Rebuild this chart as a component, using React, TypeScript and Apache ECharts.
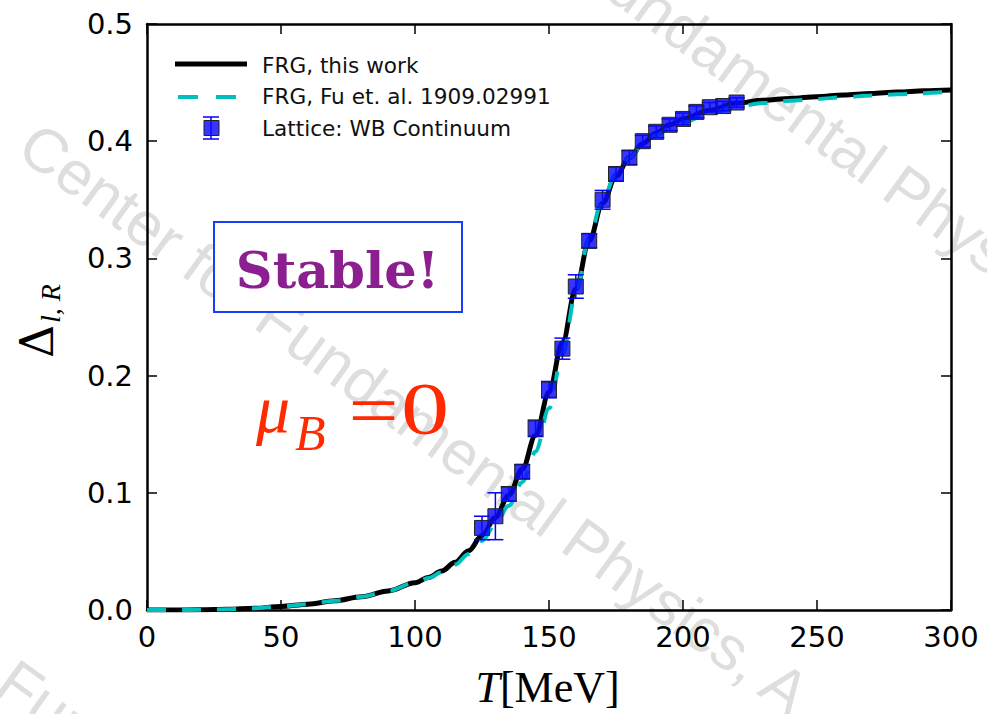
import React, { useEffect, useRef } from "react";
import * as echarts from "echarts";

// ---- data ----
const frgT = [0, 10, 20, 30, 40, 50, 60, 70, 80, 90, 100, 105, 110, 115, 120, 125, 130, 135, 140, 145, 150, 155, 160, 165, 170, 175, 180, 185, 190, 195, 200, 210, 220, 230, 240, 250, 260, 270, 280, 290, 300];
const frgThisWork = [0, 0.0, 0.0002, 0.0006, 0.0015, 0.003, 0.005, 0.0078, 0.0113, 0.0163, 0.0233, 0.0278, 0.0333, 0.0407, 0.0505, 0.0635, 0.079, 0.098, 0.12, 0.149, 0.186, 0.228, 0.274, 0.315, 0.347, 0.37, 0.386, 0.398, 0.407, 0.414, 0.419, 0.4265, 0.4325, 0.435, 0.4365, 0.438, 0.4395, 0.4408, 0.442, 0.443, 0.4437];
const frgFu = [0, 0.0, 0.0002, 0.0006, 0.0015, 0.003, 0.005, 0.0078, 0.0113, 0.0163, 0.0233, 0.0273, 0.0323, 0.0388, 0.0478, 0.059, 0.073, 0.089, 0.109, 0.135, 0.172, 0.218, 0.27, 0.318, 0.35, 0.372, 0.386, 0.397, 0.405, 0.411, 0.416, 0.4235, 0.4295, 0.4325, 0.4345, 0.436, 0.4375, 0.439, 0.44, 0.441, 0.4423];
const latticeT = [125, 130, 135, 140, 145, 150, 155, 160, 165, 170, 175, 180, 185, 190, 195, 200, 205, 210, 215, 220];
const latticeDelta = [0.07, 0.08, 0.099, 0.118, 0.155, 0.188, 0.223, 0.276, 0.315, 0.35, 0.372, 0.386, 0.4, 0.408, 0.414, 0.419, 0.425, 0.429, 0.43, 0.433];
const latticeErr = [0.01, 0.02, 0.006, 0.006, 0.007, 0.007, 0.009, 0.01, 0.006, 0.008, 0.006, 0.006, 0.005, 0.005, 0.005, 0.005, 0.005, 0.004, 0.004, 0.004];
const xTicks = { min: 0, max: 300, interval: 50 };
const yTicks = { min: 0, max: 0.5, interval: 0.1 };
const legendLabels = ["FRG, this work", "FRG, Fu et. al. 1909.02991", "Lattice: WB Continuum"];
const watermarkText = "Center for Fundamental Physics, A";

const BLUE = "#0000ff";
const CYAN = "#00bfbf";

export default function App() {
  const ref = useRef<HTMLDivElement>(null);
  useEffect(() => {
    if (!ref.current) return;
    const chart = echarts.init(ref.current, undefined, { renderer: "svg" });

    const axisCommon = {
      type: "value" as const,
      splitLine: { show: false },
      axisLine: { show: true, onZero: false, lineStyle: { color: "#000", width: 2.5 } },
      axisTick: { show: true, inside: true, length: 10, lineStyle: { color: "#000", width: 1.5 } },
    };
    const labelStyle = { color: "#000", fontSize: 29, fontFamily: "DejaVu Sans" };

    const wmAngle = (-36 * Math.PI) / 180;
    const wmStarts = [
      [27, 137],
      [348, -216],
      [-232, 502],
    ];
    const watermark = wmStarts.map(([x, y]) => ({
      type: "text",
      x,
      y,
      rotation: wmAngle,
      z: -10,
      silent: true,
      style: {
        text: watermarkText,
        fill: "#dedede",
        font: "62px 'Liberation Sans'",
        textAlign: "left",
        textVerticalAlign: "middle",
      },
    }));

    const serif = "'Liberation Serif'";
    const red = "#ff2a00";

    const option = {
      animation: false,
      backgroundColor: "#fff",
      grid: { left: 147, top: 24, width: 804, height: 586, containLabel: false },
      xAxis: [
        { ...axisCommon, ...xTicks, position: "bottom", axisLabel: { ...labelStyle, margin: 12 } },
        { ...axisCommon, ...xTicks, position: "top", axisLabel: { show: false } },
      ],
      yAxis: [
        {
          ...axisCommon,
          ...yTicks,
          position: "left",
          axisLabel: { ...labelStyle, margin: 14, formatter: (v: number) => v.toFixed(1) },
        },
        { ...axisCommon, ...yTicks, position: "right", axisLabel: { show: false } },
      ],
      series: [
        {
          name: legendLabels[0],
          type: "line",
          xAxisIndex: 0,
          yAxisIndex: 0,
          data: frgT.map((t, i) => [t, frgThisWork[i]]),
          showSymbol: false,
          smooth: 0.35,
          smoothMonotone: "x",
          lineStyle: { color: "#000", width: 5 },
          z: 2,
        },
        {
          name: legendLabels[1],
          type: "line",
          xAxisIndex: 0,
          yAxisIndex: 0,
          data: frgT.map((t, i) => [t, frgFu[i]]),
          showSymbol: false,
          smooth: 0.35,
          smoothMonotone: "x",
          lineStyle: { color: CYAN, width: 4, type: [19, 16] },
          z: 3,
        },
        {
          name: "errors",
          type: "custom",
          xAxisIndex: 0,
          yAxisIndex: 0,
          data: latticeT.map((t, i) => [t, latticeDelta[i], latticeErr[i]]),
          renderItem: (params: any, api: any) => {
            const x = api.value(0);
            const y = api.value(1);
            const e = api.value(2);
            const top = api.coord([x, y + e]);
            const bot = api.coord([x, y - e]);
            const hw = 8;
            const st = { stroke: BLUE, lineWidth: 1.5 };
            return {
              type: "group",
              children: [
                { type: "line", shape: { x1: top[0], y1: top[1], x2: bot[0], y2: bot[1] }, style: st },
                { type: "line", shape: { x1: top[0] - hw, y1: top[1], x2: top[0] + hw, y2: top[1] }, style: st },
                { type: "line", shape: { x1: bot[0] - hw, y1: bot[1], x2: bot[0] + hw, y2: bot[1] }, style: st },
              ],
            };
          },
          z: 4,
        },
        {
          name: legendLabels[2],
          type: "scatter",
          xAxisIndex: 0,
          yAxisIndex: 0,
          data: latticeT.map((t, i) => [t, latticeDelta[i]]),
          symbol: "rect",
          symbolSize: 15,
          itemStyle: { color: "rgba(10,10,255,0.82)", borderColor: "#222", borderWidth: 1, opacity: 1 },
          z: 5,
        },
      ],
      graphic: [
        ...watermark,
        // legend
        { type: "line", shape: { x1: 175, y1: 64, x2: 247, y2: 64 }, style: { stroke: "#000", lineWidth: 5 }, z: 20 },
        { type: "line", shape: { x1: 178, y1: 97, x2: 247, y2: 97 }, style: { stroke: CYAN, lineWidth: 4, lineDash: [20, 18] }, z: 20 },
        { type: "line", shape: { x1: 211, y1: 117, x2: 211, y2: 139 }, style: { stroke: BLUE, lineWidth: 1.5 }, z: 20 },
        { type: "line", shape: { x1: 203, y1: 117, x2: 219, y2: 117 }, style: { stroke: BLUE, lineWidth: 1.5 }, z: 20 },
        { type: "line", shape: { x1: 203, y1: 139, x2: 219, y2: 139 }, style: { stroke: BLUE, lineWidth: 1.5 }, z: 20 },
        { type: "rect", shape: { x: 204, y: 120.5, width: 15, height: 15 }, style: { fill: "rgba(10,10,255,0.82)", stroke: "#222", lineWidth: 1 }, z: 21 },
        ...legendLabels.map((t, i) => ({
          type: "text",
          x: 262,
          y: 65 + i * 31.5,
          z: 20,
          style: { text: t, fill: "#111", font: "21.6px 'DejaVu Sans'", textAlign: "left", textVerticalAlign: "middle" },
        })),
        // Stable! box
        { type: "rect", shape: { x: 214, y: 222, width: 248, height: 90 }, style: { fill: "#fff", stroke: "#1a3cff", lineWidth: 2 }, z: 15 },
        {
          type: "text",
          x: 337.5,
          y: 270,
          z: 16,
          style: { text: "Stable!", fill: "#8b1f8f", font: "bold 51px 'DejaVu Serif'", textAlign: "center", textVerticalAlign: "middle" },
        },
        // mu_B = 0
        { type: "text", x: 256, y: 409, z: 16, style: { text: "μ", fill: red, font: `italic 68px ${serif}`, textAlign: "left", textVerticalAlign: "middle" } },
        { type: "text", x: 295, y: 433, z: 16, style: { text: "B", fill: red, font: `italic 50px ${serif}`, textAlign: "left", textVerticalAlign: "middle" } },
        { type: "text", x: 373.5, y: 410, scaleX: 1.2, z: 16, style: { text: "=", fill: red, font: `74px ${serif}`, textAlign: "center", textVerticalAlign: "middle" } },
        { type: "text", x: 425, y: 409, scaleX: 1.3, z: 16, style: { text: "0", fill: red, font: `74px ${serif}`, textAlign: "center", textVerticalAlign: "middle" } },
        // y axis label
        { type: "text", x: 37, y: 358, rotation: Math.PI / 2, z: 16, style: { text: "Δ", fill: "#000", font: "46px 'DejaVu Serif'", textAlign: "left", textVerticalAlign: "middle" } },
        { type: "text", x: 50.5, y: 323, rotation: Math.PI / 2, z: 16, style: { text: "l, R", fill: "#000", font: `italic 28px ${serif}`, textAlign: "left", textVerticalAlign: "middle" } },
        // x axis label
        {
          type: "text",
          x: 547.5,
          y: 687,
          z: 16,
          style: {
            text: "{i|T}{r|[MeV]}",
            textAlign: "center",
            textVerticalAlign: "middle",
            rich: {
              i: { fontFamily: "Liberation Serif", fontStyle: "italic", fontSize: 44, fill: "#000", color: "#000" },
              r: { fontFamily: "Liberation Serif", fontSize: 44, fill: "#000", color: "#000" },
            },
          },
        },
      ],
    };

    chart.setOption(option as any);
    return () => chart.dispose();
  }, []);

  return (
    <div
      ref={ref}
      style={{ position: "fixed", left: 0, top: 0, width: 987, height: 714, background: "#fff" }}
    />
  );
}
